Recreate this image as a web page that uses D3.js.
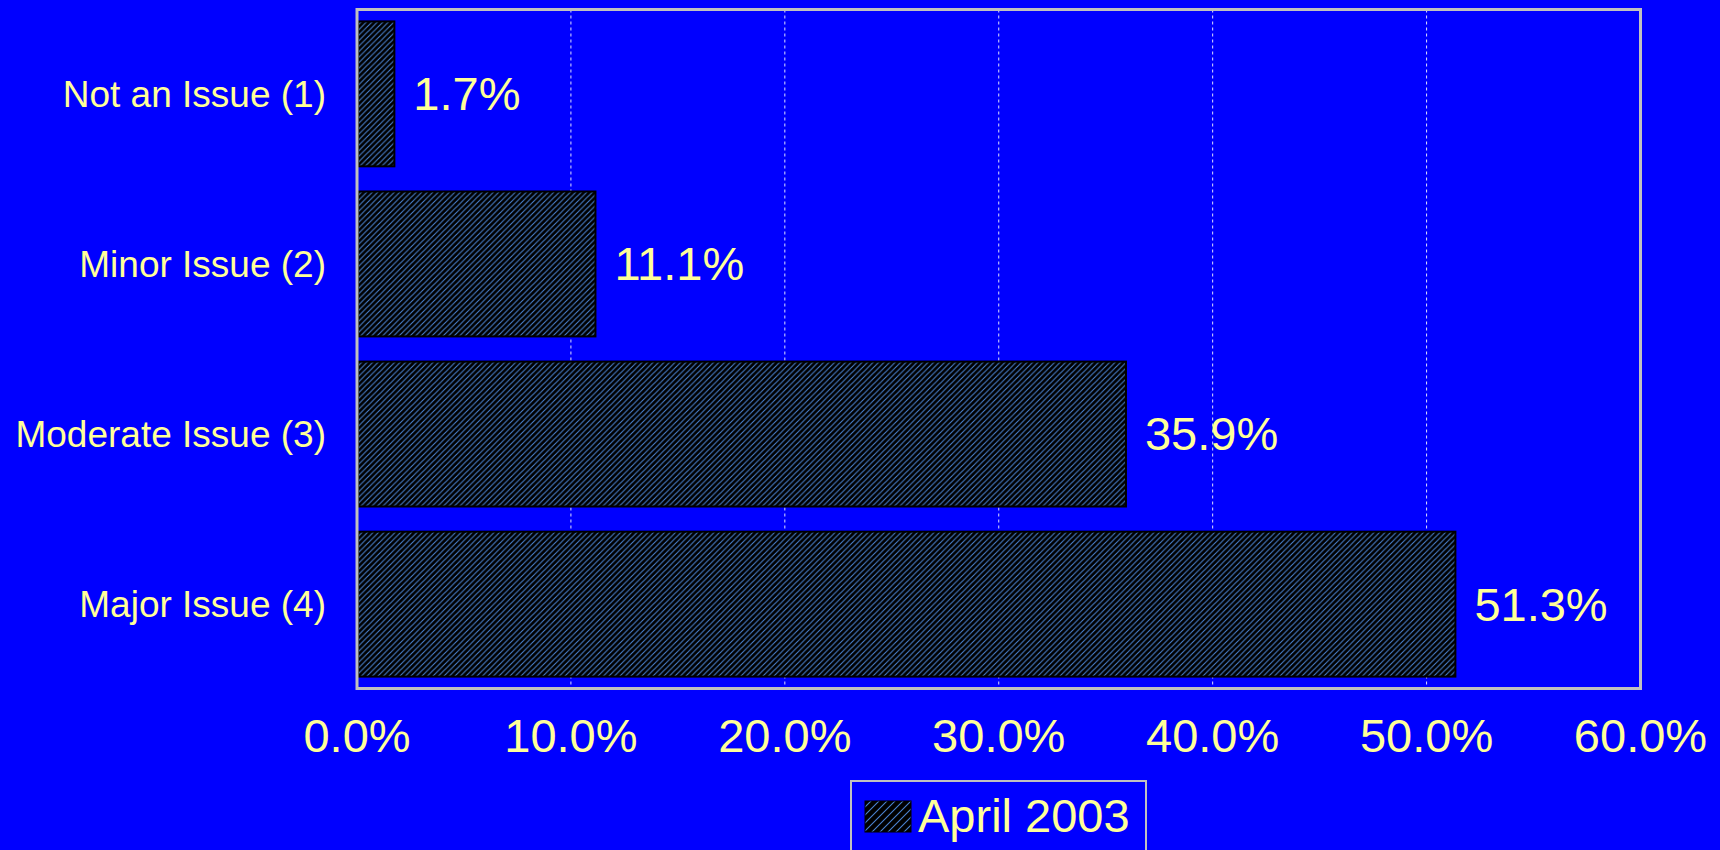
<!DOCTYPE html>
<html>
<head>
<meta charset="utf-8">
<script src="https://cdn.jsdelivr.net/npm/d3@7"></script>
<style>
  html, body { margin: 0; padding: 0; background: #0000ff; overflow: hidden; }
  svg { display: block; font-family: Arial, "Liberation Sans", sans-serif; }
</style>
</head>
<body>
<svg></svg>
<script>
// Data
const categories = ["Not an Issue (1)", "Minor Issue (2)", "Moderate Issue (3)", "Major Issue (4)"];
const values = [1.7, 11.1, 35.9, 51.3];
const ticks = [0, 10, 20, 30, 40, 50, 60];
const seriesName = "April 2003";

const width = 1720;
const height = 850;
const margin = { top: 9.5, left: 357, right: 79.5, bottom: 161.5 };
const innerW = width - margin.left - margin.right;
const innerH = height - margin.top - margin.bottom;
const textColor = "#ffff99";

const svg = d3.select("svg").attr("width", width).attr("height", height);

svg.append("rect").attr("width", width).attr("height", height).attr("fill", "#0000ff");

// hatch patterns
const defs = svg.append("defs");
function hatch(id, size) {
  const p = defs.append("pattern")
    .attr("id", id)
    .attr("patternUnits", "userSpaceOnUse")
    .attr("width", size)
    .attr("height", size);
  p.append("rect").attr("width", size).attr("height", size).attr("fill", "#000");
  p.append("path")
    .attr("d", `M0,${size} L${size},0 M${-size / 2},${size / 2} L${size / 2},${-size / 2} M${size / 2},${size * 1.5} L${size * 1.5},${size / 2}`)
    .attr("stroke", "#4a82d0")
    .attr("stroke-width", 1.1);
}
hatch("hatch", 5.5);
hatch("hatchLegend", 8);

const g = svg.append("g").attr("transform", `translate(${margin.left},${margin.top})`);

const x = d3.scaleLinear().domain([0, 60]).range([0, innerW]);
const y = d3.scaleBand().domain(categories).range([0, innerH]).paddingInner(0.148).paddingOuter(0.07);

// gridlines
g.append("g")
  .selectAll("line")
  .data(ticks.slice(1, -1))
  .join("line")
  .attr("x1", (d) => x(d))
  .attr("x2", (d) => x(d))
  .attr("y1", 0)
  .attr("y2", innerH)
  .attr("stroke", "#e0e0ff")
  .attr("stroke-width", 1)
  .attr("stroke-dasharray", "3,3");

// bars
g.append("g")
  .selectAll("rect")
  .data(values)
  .join("rect")
  .attr("x", x(0) + 1)
  .attr("y", (d, i) => y(categories[i]))
  .attr("width", (d) => x(d) - x(0))
  .attr("height", y.bandwidth())
  .attr("fill", "url(#hatch)")
  .attr("stroke", "#000")
  .attr("stroke-width", 2);

// value labels
g.append("g")
  .selectAll("text")
  .data(values)
  .join("text")
  .attr("x", (d) => x(d) + 20)
  .attr("y", (d, i) => y(categories[i]) + y.bandwidth() / 2)
  .attr("dy", "0.35em")
  .attr("fill", textColor)
  .style("font-size", "47px")
  .text((d) => d.toFixed(1) + "%");

// frame
g.append("rect")
  .attr("width", innerW)
  .attr("height", innerH)
  .attr("fill", "none")
  .attr("stroke", "#c0c0c0")
  .attr("stroke-width", 3);

// category labels
g.append("g")
  .selectAll("text")
  .data(categories)
  .join("text")
  .attr("x", -31)
  .attr("y", (d) => y(d) + y.bandwidth() / 2)
  .attr("dy", "0.35em")
  .attr("text-anchor", "end")
  .attr("fill", textColor)
  .style("font-size", "37px")
  .text((d) => d);

// x tick labels
g.append("g")
  .selectAll("text")
  .data(ticks)
  .join("text")
  .attr("x", (d) => x(d))
  .attr("y", 752 - margin.top)
  .attr("text-anchor", "middle")
  .attr("fill", textColor)
  .style("font-size", "47px")
  .text((d) => d.toFixed(1) + "%");

// legend
const legend = svg.append("g");
legend.append("rect")
  .attr("x", 851)
  .attr("y", 781)
  .attr("width", 295)
  .attr("height", 90)
  .attr("fill", "#0000ff")
  .attr("stroke", "#c0c0c0")
  .attr("stroke-width", 2);
legend.append("rect")
  .attr("x", 865)
  .attr("y", 801)
  .attr("width", 46)
  .attr("height", 31)
  .attr("fill", "url(#hatchLegend)")
  .attr("stroke", "#000")
  .attr("stroke-width", 1);
legend.append("text")
  .attr("x", 918)
  .attr("y", 832)
  .attr("fill", textColor)
  .style("font-size", "47px")
  .text(seriesName);
</script>
</body>
</html>
